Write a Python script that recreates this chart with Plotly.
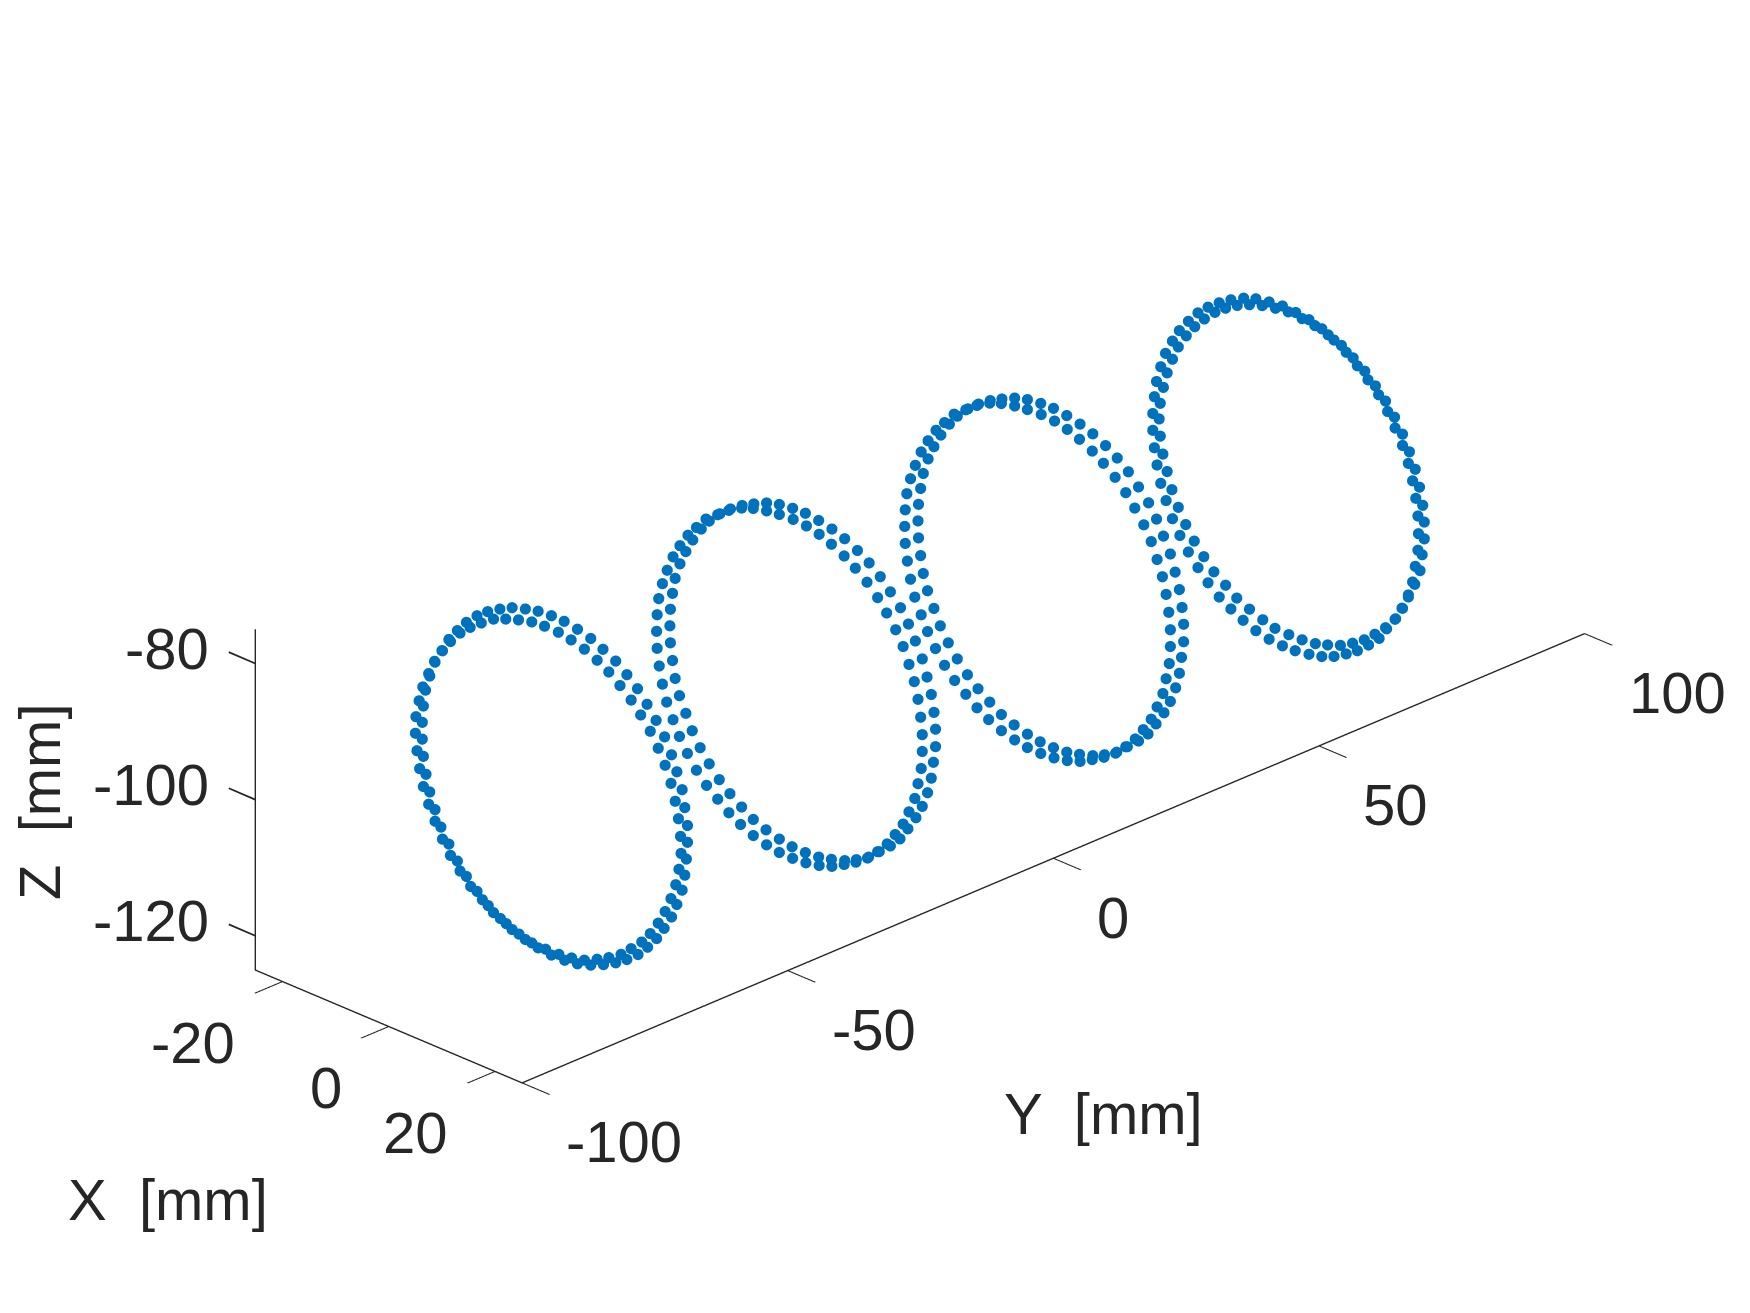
import numpy as np
import plotly.graph_objects as go

# Ring centres along Y [mm]
ring_y_centres = [-69.4, -23.4, 23.3, 69.4]

# First ring (Y about -70)
end_x = [-24.4,-24.4,-24.0,-23.4,-22.5,-21.5,-20.3,-19.1,-17.7,-16.1,-14.3,-12.4,-10.3,-8.1,-5.8,-3.5,-1.1,1.2,3.6,6.0,8.2,10.5,12.6,14.6,16.4,18.1,19.7,21.0,22.1,23.1,23.7,24.3,24.4,24.4,24.2,23.8,23.0,22.1,20.9,19.6,18.1,16.4,14.5,12.5,10.4,8.1,5.8,3.5,1.1,-1.3,-3.6,-6.0,-8.2,-10.4,-12.5,-14.4,-16.1,-17.8,-19.3,-20.4,-21.5,-22.3,-22.9,-23.2,-23.3,-23.2,-22.9,-22.3,-21.4,-20.2,-18.8,-17.2,-15.4,-13.5,-11.4,-9.2,-6.9,-4.6,-2.3,0.2,2.5,4.9,7.2,9.4,11.5,13.5,15.3,17.1,18.6,20.0,21.1,22.0,22.7,23.2,23.4,23.1,22.6,21.9,20.9,19.8,18.5,17.0,15.2,13.4,11.3,9.2,7.0,4.7,2.4,-0.0,-2.4,-4.8,-7.1,-9.4,-11.5,-13.6,-15.6,-17.4,-18.9,-20.4,-21.6,-22.7,-23.4,-24.0]
end_dy = [-1.2,-1.1,-0.9,-0.8,-0.6,-0.5,-0.3,-0.2,-0.0,0.1,0.3,0.4,0.6,0.7,0.9,1.0,1.1,1.2,1.3,1.4,1.5,1.6,1.6,1.6,1.6,1.6,1.6,1.6,1.5,1.5,1.4,1.3,1.2,1.0,0.9,0.8,0.6,0.5,0.3,0.2,0.0,-0.1,-0.3,-0.4,-0.6,-0.7,-0.9,-1.0,-1.1,-1.2,-1.3,-1.4,-1.4,-1.5,-1.5,-1.6,-1.6,-1.5,-1.5,-1.5,-1.4,-1.3,-1.2,-1.1,-1.0,-0.9,-0.8,-0.6,-0.5,-0.3,-0.2,-0.0,0.1,0.3,0.5,0.6,0.7,0.9,1.0,1.1,1.2,1.3,1.4,1.4,1.4,1.5,1.5,1.5,1.5,1.4,1.4,1.3,1.2,1.1,1.0,0.9,0.8,0.6,0.5,0.3,0.1,-0.0,-0.2,-0.3,-0.5,-0.6,-0.8,-0.9,-1.0,-1.1,-1.3,-1.3,-1.4,-1.5,-1.5,-1.6,-1.6,-1.6,-1.6,-1.5,-1.5,-1.4,-1.4,-1.3]
end_z = [-99.7,-97.3,-94.9,-92.7,-90.5,-88.4,-86.5,-84.5,-82.8,-81.1,-79.6,-78.4,-77.4,-76.5,-76.0,-75.6,-75.5,-75.6,-76.0,-76.6,-77.5,-78.5,-79.8,-81.2,-82.9,-84.7,-86.6,-88.8,-90.9,-93.2,-95.6,-98.0,-100.4,-102.8,-105.2,-107.5,-109.8,-111.9,-113.9,-115.8,-117.5,-119.1,-120.4,-121.5,-122.4,-123.2,-123.7,-123.9,-123.9,-123.6,-123.1,-122.4,-121.5,-120.3,-118.9,-117.3,-115.6,-113.7,-111.7,-109.5,-107.3,-105.0,-102.6,-100.2,-97.8,-95.4,-93.0,-90.8,-88.5,-86.5,-84.7,-83.0,-81.6,-80.4,-79.2,-78.5,-77.9,-77.5,-77.4,-77.5,-77.9,-78.5,-79.4,-80.4,-81.7,-83.2,-84.8,-86.6,-88.6,-90.6,-92.9,-95.2,-97.5,-99.9,-102.3,-104.7,-107.1,-109.3,-111.5,-113.5,-115.4,-117.1,-118.6,-120.0,-121.1,-122.0,-122.8,-123.2,-123.4,-123.4,-123.2,-122.7,-121.9,-121.0,-119.8,-118.5,-116.9,-115.2,-113.3,-111.2,-109.1,-106.9,-104.5,-102.1]

# Second and third rings (same profile)
mid_x = [-25.0,-25.0,-24.8,-24.3,-23.5,-22.6,-21.4,-20.1,-18.6,-17.0,-14.9,-13.0,-10.7,-8.6,-6.4,-4.1,-1.7,0.6,3.0,5.4,7.7,10.0,12.2,14.2,16.1,18.0,19.5,20.9,22.2,23.2,24.0,24.6,25.0,25.1,24.9,24.6,24.0,23.2,22.1,20.8,19.4,17.8,15.9,14.0,11.9,9.8,7.5,5.2,2.8,0.4,-1.9,-4.3,-6.6,-8.8,-10.9,-12.9,-14.8,-16.5,-18.0,-19.3,-20.5,-21.4,-22.0,-22.5,-22.7,-22.7,-22.4,-22.0,-21.3,-20.3,-19.2,-17.8,-16.4,-14.6,-12.7,-10.8,-8.7,-6.3,-4.0,-1.6,0.8,3.1,5.4,7.7,9.8,11.9,13.9,15.6,17.3,18.7,19.9,20.9,21.7,22.3,22.7,22.8,22.7,22.3,21.8,20.9,19.9,18.6,17.2,15.6,13.8,11.8,9.7,7.6,5.3,3.0,0.6,-1.8,-4.1,-6.5,-8.8,-11.0,-13.1,-15.1,-17.0,-18.7,-20.2,-21.5,-22.7,-23.6,-24.3,-24.8]
mid_dy = [-1.2,-1.1,-1.0,-0.8,-0.7,-0.5,-0.4,-0.2,-0.1,0.1,0.2,0.4,0.6,0.7,0.9,1.0,1.1,1.2,1.3,1.4,1.5,1.6,1.6,1.7,1.7,1.7,1.7,1.6,1.6,1.5,1.5,1.4,1.3,1.2,1.0,0.9,0.8,0.6,0.5,0.3,0.2,-0.0,-0.2,-0.3,-0.5,-0.6,-0.8,-0.9,-1.0,-1.1,-1.2,-1.3,-1.4,-1.4,-1.5,-1.5,-1.5,-1.5,-1.5,-1.4,-1.4,-1.3,-1.2,-1.1,-1.0,-0.9,-0.8,-0.7,-0.5,-0.4,-0.2,-0.0,0.1,0.3,0.4,0.6,0.7,0.8,0.9,1.1,1.2,1.3,1.3,1.4,1.4,1.5,1.5,1.5,1.5,1.5,1.4,1.4,1.3,1.2,1.1,1.0,0.9,0.7,0.6,0.4,0.3,0.1,-0.0,-0.2,-0.3,-0.5,-0.6,-0.8,-0.9,-1.1,-1.2,-1.3,-1.4,-1.5,-1.6,-1.6,-1.6,-1.7,-1.7,-1.7,-1.7,-1.6,-1.6,-1.5,-1.4,-1.3]
mid_z = [-100.1,-97.7,-95.3,-93.0,-90.8,-88.6,-86.6,-84.7,-83.1,-81.4,-80.1,-78.9,-77.5,-76.6,-75.8,-75.3,-75.1,-75.1,-75.4,-75.9,-76.6,-77.6,-78.7,-80.1,-81.7,-83.4,-85.3,-87.3,-89.5,-91.8,-94.1,-96.5,-98.8,-101.3,-103.6,-106.0,-108.3,-110.5,-112.5,-114.5,-116.4,-117.9,-119.3,-120.7,-121.7,-122.5,-123.0,-123.4,-123.5,-123.4,-123.0,-122.4,-121.6,-120.5,-119.2,-117.8,-116.1,-114.3,-112.3,-110.2,-108.0,-105.8,-103.4,-101.0,-98.6,-96.2,-93.8,-91.5,-89.2,-87.1,-85.1,-83.1,-81.5,-79.9,-78.6,-77.9,-77.3,-76.9,-76.7,-76.7,-76.9,-77.4,-78.1,-79.1,-80.2,-81.6,-83.2,-84.9,-86.8,-88.8,-91.0,-93.2,-95.5,-97.9,-100.3,-102.7,-105.2,-107.5,-109.8,-112.0,-114.1,-116.0,-117.8,-119.4,-120.9,-122.1,-123.1,-124.0,-124.6,-124.9,-125.0,-124.9,-124.5,-123.9,-123.0,-122.0,-120.7,-119.3,-117.7,-115.8,-113.8,-111.8,-109.6,-107.3,-104.9,-102.5]

# Fourth ring (Y about +70)
far_x = [-24.4,-24.5,-24.3,-24.0,-23.4,-22.6,-21.5,-20.3,-18.8,-17.2,-15.4,-13.5,-11.4,-9.2,-7.0,-4.6,-2.3,0.1,2.5,4.8,7.1,9.3,11.4,13.4,15.3,17.0,18.5,19.9,21.1,21.9,22.6,23.1,23.3,23.3,23.0,22.6,21.9,21.0,19.7,18.1,16.3,14.4,12.4,10.2,8.0,5.8,3.4,1.0,-1.4,-3.7,-6.1,-8.4,-10.5,-12.6,-14.5,-16.3,-17.9,-19.4,-20.6,-21.6,-22.4,-23.0,-23.3,-23.2,-22.8,-22.2,-21.4,-20.4,-19.1,-17.6,-16.0,-14.2,-12.3,-10.3,-8.1,-5.8,-3.5,-1.2,1.3,3.6,6.0,8.4,10.6,12.7,14.7,16.6,18.3,19.8,21.2,22.3,23.2,23.9,24.3,24.4,24.1,23.8,23.0,21.9,20.9,19.8,18.3,17.0,15.2,13.3,11.3,9.2,7.0,4.7,2.3,-0.0,-2.4,-4.8,-7.1,-9.4,-11.5,-13.6,-15.5,-17.3,-18.9,-20.3,-21.6,-22.6,-23.4,-24.0]
far_dy = [-1.2,-1.1,-1.0,-0.9,-0.7,-0.6,-0.4,-0.3,-0.1,0.1,0.2,0.4,0.5,0.7,0.8,0.9,1.1,1.2,1.3,1.4,1.4,1.5,1.5,1.5,1.6,1.6,1.5,1.5,1.4,1.4,1.3,1.2,1.1,1.0,0.8,0.7,0.6,0.4,0.3,0.1,-0.1,-0.2,-0.4,-0.5,-0.7,-0.8,-0.9,-1.0,-1.2,-1.2,-1.3,-1.4,-1.4,-1.5,-1.5,-1.5,-1.5,-1.4,-1.4,-1.3,-1.3,-1.2,-1.1,-1.0,-0.8,-0.7,-0.5,-0.4,-0.2,-0.1,0.1,0.3,0.4,0.6,0.7,0.8,1.0,1.1,1.2,1.3,1.4,1.5,1.5,1.6,1.6,1.6,1.6,1.6,1.5,1.5,1.4,1.3,1.2,1.1,1.0,0.9,0.7,0.6,0.4,0.3,0.1,-0.0,-0.2,-0.4,-0.5,-0.7,-0.8,-0.9,-1.1,-1.2,-1.3,-1.4,-1.5,-1.5,-1.6,-1.6,-1.6,-1.6,-1.6,-1.6,-1.5,-1.5,-1.4,-1.3]
far_z = [-101.0,-98.6,-96.1,-93.8,-91.5,-89.3,-87.2,-85.3,-83.5,-81.8,-80.4,-79.2,-78.1,-77.2,-76.6,-76.3,-76.2,-76.4,-76.7,-77.3,-78.2,-79.3,-80.6,-82.0,-83.6,-85.5,-87.4,-89.5,-91.7,-94.0,-96.3,-98.7,-101.2,-103.6,-106.0,-108.4,-110.5,-112.7,-114.7,-116.4,-117.9,-119.3,-120.4,-121.4,-122.0,-122.5,-122.7,-122.7,-122.5,-122.0,-121.2,-120.3,-119.1,-117.8,-116.2,-114.5,-112.6,-110.6,-108.4,-106.1,-103.8,-101.4,-99.0,-96.7,-94.3,-92.0,-89.8,-87.7,-85.7,-83.9,-82.3,-80.8,-79.6,-78.6,-77.8,-77.2,-76.9,-76.7,-76.9,-77.2,-77.8,-78.6,-79.7,-81.0,-82.5,-84.1,-85.9,-87.9,-90.0,-92.2,-94.5,-96.9,-99.2,-101.6,-104.0,-106.4,-108.6,-110.8,-112.7,-114.6,-116.5,-118.3,-119.8,-121.2,-122.3,-123.3,-124.0,-124.4,-124.6,-124.6,-124.4,-123.9,-123.1,-122.2,-121.1,-119.7,-118.1,-116.4,-114.5,-112.5,-110.3,-108.1,-105.7,-103.4]

x_ticks = [-20, 0, 20]
x_labels = ["-20", "0", "20"]
y_ticks = [-100, -50, 0, 50, 100]
y_labels = ["-100", "-50", "0", "50", "100"]
z_ticks = [-120, -100, -80]
z_labels = ["-120", "-100", "-80"]

for name, a in [("end", (end_x, end_dy, end_z)), ("mid", (mid_x, mid_dy, mid_z)), ("far", (far_x, far_dy, far_z))]:
    if len({len(v) for v in a}) != 1:
        raise SystemExit(f"{name} lengths {[len(v) for v in a]}")

BLUE = "#0072BD"
INK = "#262626"
FONT = "Liberation Sans"
FS = 58
XMIN, XMAX = -25.1, 25.1
YMIN, YMAX = -100, 100
ZMIN, ZMAX = -125.05, -75

rings = [(end_x, end_dy, end_z), (mid_x, mid_dy, mid_z), (mid_x, mid_dy, mid_z), (far_x, far_dy, far_z)]
fig = go.Figure()
for yc, (rx, rdy, rz) in zip(ring_y_centres, rings):
    fig.add_trace(go.Scatter3d(
        x=rx, y=[yc + d for d in rdy], z=rz, mode="markers",
        marker=dict(size=6.5, color=BLUE, opacity=1, line=dict(width=0)),
        showlegend=False, hoverinfo="skip"))

def axis(rng, tv, tt, ticks="outside"):
    return dict(range=rng, tickmode="array", tickvals=tv, ticktext=tt, title=dict(text=""),
                showgrid=False, zeroline=False, showbackground=False, showspikes=False,
                showline=True, linecolor=INK, linewidth=3, mirror=False,
                ticks=ticks, ticklen=39, tickwidth=3, tickcolor=INK, showticklabels=False)

def tick_note(x, y, z, text, anchor, dx, dy):
    return dict(x=x, y=y, z=z, text=text, showarrow=False, xanchor=anchor, yanchor="middle",
                xshift=dx, yshift=dy, font=dict(family=FONT, size=FS, color=INK))

def z_tick_mark(v):
    return dict(x=XMIN, y=YMIN, z=v, text=" ", showarrow=True, arrowhead=0, arrowwidth=1.8, arrowcolor=INK,
                ax=-28, ay=-12, standoff=0, startstandoff=0, font=dict(size=1, color=INK))

notes = []
notes += [tick_note(v, YMIN, ZMIN, t, "right", -45, -61) for v, t in zip(x_ticks, x_labels)]
notes += [tick_note(XMAX, v, ZMIN, t, "left", 42, -59) for v, t in zip(y_ticks, y_labels)]
notes += [tick_note(XMIN, YMIN, v, t, "right", -44, 15) for v, t in zip(z_ticks, z_labels)]
notes += [z_tick_mark(v) for v in z_ticks]

def title_note(text, px, py, angle=0):
    return dict(text=text, x=px/1750, y=1-py/1313, xref="paper", yref="paper", showarrow=False,
                xanchor="center", yanchor="middle", textangle=angle,
                font=dict(family=FONT, size=FS, color=INK))

k = 1.5
fig.update_layout(
    width=1750, height=1313, margin=dict(l=0, r=0, t=0, b=0, autoexpand=False), paper_bgcolor="white",
    font=dict(family=FONT, color=INK),
    scene=dict(
        domain=dict(x=[0.0468, 0.9954], y=[0.0502, 1]),
        xaxis=axis([XMIN, XMAX], x_ticks, x_labels),
        yaxis=axis([YMIN, YMAX], y_ticks, y_labels),
        zaxis=axis([ZMIN, ZMAX], z_ticks, z_labels, ticks=""),
        aspectmode="manual", aspectratio=dict(x=0.605, y=2.41, z=0.603),
        camera=dict(projection=dict(type="orthographic"),
                    center=dict(x=0, y=0, z=0), up=dict(x=0, y=0, z=1),
                    eye=dict(x=k*0.641, y=-k*0.641, z=k*0.423)),
        annotations=notes,
    ),
    annotations=[
        title_note("X  [mm]", 159.5, 1191),
        title_note("Y  [mm]", 1095, 1105),
        title_note("Z  [mm]", 32, 794, -90),
    ],
)
fig.write_html("out.html")
